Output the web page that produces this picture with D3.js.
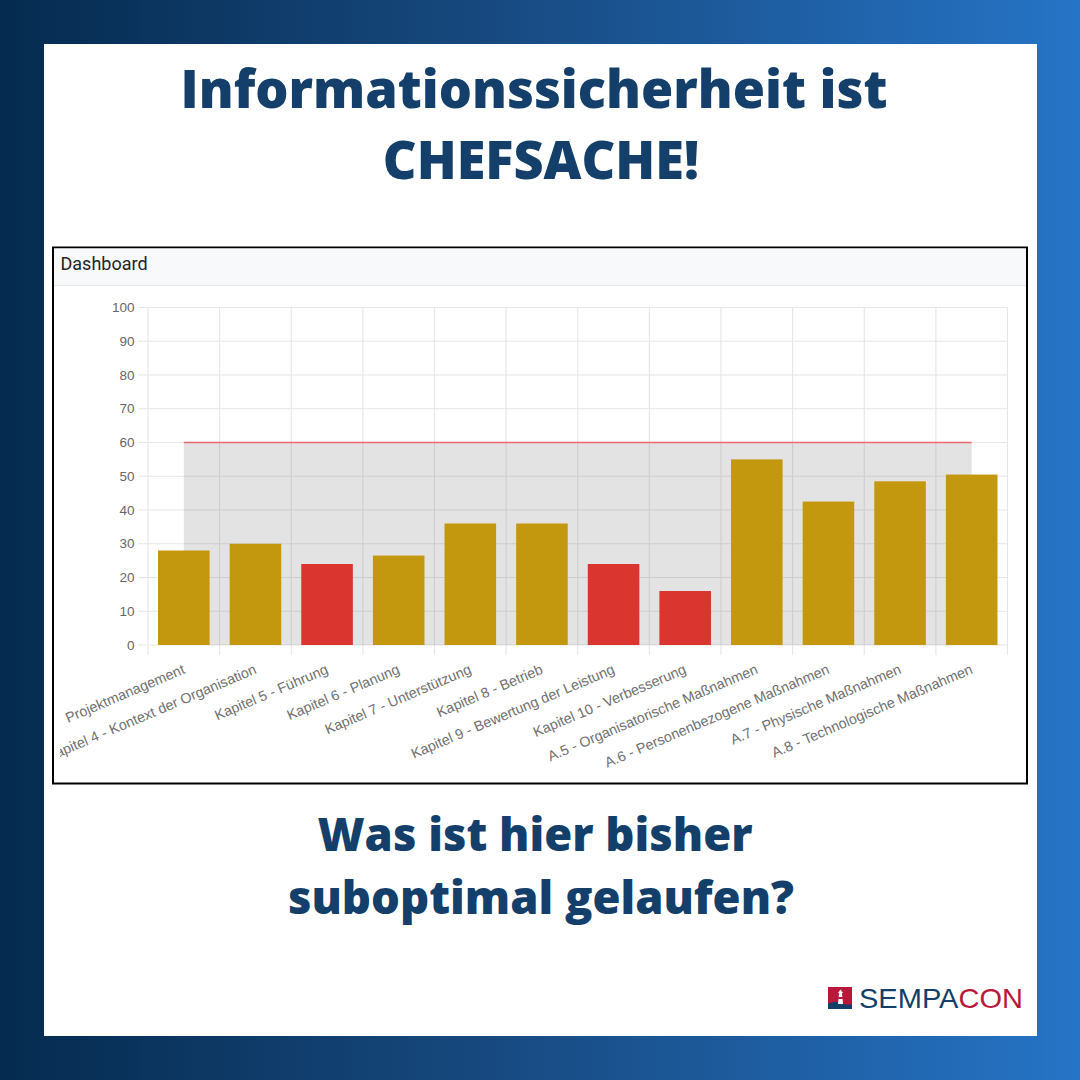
<!DOCTYPE html>
<html>
<head>
<meta charset="utf-8">
<script src="https://cdn.jsdelivr.net/npm/d3@7"></script>
<style>
  html, body { margin: 0; padding: 0; background: #fff; }
  svg { display: block; }
</style>
</head>
<body>
<div id="chart"></div>
<script>
const categories = [
  "Projektmanagement",
  "Kapitel 4 - Kontext der Organisation",
  "Kapitel 5 - Führung",
  "Kapitel 6 - Planung",
  "Kapitel 7 - Unterstützung",
  "Kapitel 8 - Betrieb",
  "Kapitel 9 - Bewertung der Leistung",
  "Kapitel 10 - Verbesserung",
  "A.5 - Organisatorische Maßnahmen",
  "A.6 - Personenbezogene Maßnahmen",
  "A.7 - Physische Maßnahmen",
  "A.8 - Technologische Maßnahmen"
];
const scores = [28, 30, 24, 26.5, 36, 36, 24, 16, 55, 42.5, 48.5, 50.5];
const target = categories.map(() => 60);
const yTicks = [0, 10, 20, 30, 40, 50, 60, 70, 80, 90, 100];
const titleLines = ["Informationssicherheit ist", "CHEFSACHE!"];
const questionLines = ["Was ist hier bisher", "suboptimal gelaufen?"];

const navy = "#143f6b";
const redLimit = 25; // bars below this are red

const svg = d3.select("#chart").append("svg").attr("width", 1080).attr("height", 1080);
const defs = svg.append("defs");

// page background
const bg = defs.append("linearGradient").attr("id", "bg");
bg.append("stop").attr("offset", "0%").attr("stop-color", "#052b4f");
bg.append("stop").attr("offset", "45%").attr("stop-color", "#17497f");
bg.append("stop").attr("offset", "100%").attr("stop-color", "#2674c6");
svg.append("rect").attr("width", 1080).attr("height", 1080).attr("fill", "url(#bg)");
svg.append("rect").attr("x", 44).attr("y", 44).attr("width", 993).attr("height", 992).attr("fill", "#fff");

// headings, the first lines sit a little left because of a trailing space in the original
function heading(lines, xs, ys, size) {
  svg.append("g").selectAll("text").data(lines).enter().append("text")
    .attr("x", (d, i) => xs[i])
    .attr("y", (d, i) => ys[i])
    .attr("text-anchor", "middle")
    .attr("font-family", "'Open Sans'")
    .attr("font-weight", 800)
    .attr("font-size", size)
    .attr("fill", navy)
    .text((d) => d);
}
heading(titleLines, [534, 541], [108, 179], 52.2);
heading(questionLines, [535, 541], [851, 914], 45.4);

// dashboard card
svg.append("rect").attr("x", 53).attr("y", 247.5).attr("width", 974).attr("height", 536)
  .attr("fill", "#fff").attr("stroke", "#000").attr("stroke-width", 2);
svg.append("rect").attr("x", 54).attr("y", 248.5).attr("width", 972).attr("height", 37)
  .attr("fill", "#f8f9fa");
svg.append("line").attr("x1", 54).attr("x2", 1026).attr("y1", 285.5).attr("y2", 285.5)
  .attr("stroke", "#e6e6e8");
svg.append("text").attr("x", 60.5).attr("y", 270)
  .attr("font-family", "Roboto").attr("font-size", 18).attr("fill", "#212529")
  .text("Dashboard");

// scales
const x = d3.scaleBand().domain(categories).range([148, 1007.5]).paddingInner(0).paddingOuter(0);
const y = d3.scaleLinear().domain([0, 100]).range([645, 307.5]);
const barWidth = x.bandwidth() * 0.72;
const center = (d) => x(d) + x.bandwidth() / 2;

// grid
const grid = svg.append("g");
grid.selectAll(".h").data(yTicks).enter().append("line")
  .attr("x1", 138).attr("x2", 1007.5)
  .attr("y1", (d) => y(d)).attr("y2", (d) => y(d))
  .attr("stroke", "#e6e6e6").attr("stroke-width", 1.1);
const xEdges = categories.map((d) => x(d)).concat([x.range()[1]]);
grid.selectAll(".v").data(xEdges).enter().append("line")
  .attr("x1", (d) => d).attr("x2", (d) => d)
  .attr("y1", y(100)).attr("y2", y(0) + 10)
  .attr("stroke", "#e6e6e6").attr("stroke-width", 1.1);

// target area with red top line
const area = d3.area()
  .x((d, i) => center(categories[i]))
  .y0(y(0))
  .y1((d) => y(d));
svg.append("path").datum(target).attr("d", area)
  .attr("fill", "rgba(100,100,100,0.18)");
const line = d3.line()
  .x((d, i) => center(categories[i]))
  .y((d) => y(d));
svg.append("path").datum(target).attr("d", line)
  .attr("fill", "none").attr("stroke", "#f4676b").attr("stroke-width", 1.6);

// bars
svg.append("g").selectAll("rect").data(categories).enter().append("rect")
  .attr("x", (d) => center(d) - barWidth / 2)
  .attr("width", barWidth)
  .attr("y", (d, i) => y(scores[i]))
  .attr("height", (d, i) => y(0) - y(scores[i]))
  .attr("fill", (d, i) => (scores[i] < redLimit ? "#da352e" : "#c4980e"));

// y tick labels
svg.append("g").selectAll("text").data(yTicks).enter().append("text")
  .attr("x", 134.5)
  .attr("y", (d) => y(d) + 4.5)
  .attr("text-anchor", "end")
  .attr("font-family", "'Liberation Sans'")
  .attr("font-size", 13.5)
  .attr("fill", "#666")
  .text((d) => d);

// x labels, cut off at the card's left side like the original canvas
defs.append("clipPath").attr("id", "canvasClip")
  .append("rect").attr("x", 60).attr("y", 640).attr("width", 960).attr("height", 140);
svg.append("g").attr("clip-path", "url(#canvasClip)")
  .selectAll("text").data(categories).enter().append("text")
  .attr("transform", (d) => `translate(${center(d) + 2},${y(0) + 28}) rotate(-23)`)
  .attr("text-anchor", "end")
  .attr("font-family", "'Liberation Sans'")
  .attr("font-size", 14.3)
  .attr("fill", "#707070")
  .text((d) => d);

// logo
const logo = svg.append("g");
logo.append("rect").attr("x", 828).attr("y", 987).attr("width", 24).attr("height", 22).attr("fill", "#b9183a");
logo.append("path").attr("d", "M828 1004 Q835 1000 841 1003 T852 1004 V1009 H828 Z").attr("fill", "#143f6b");
logo.append("path").attr("d", "M838 1004 L839 993 H842 L843 1004 Z").attr("fill", "#fff");
logo.append("rect").attr("x", 838).attr("y", 997).attr("width", 5).attr("height", 2).attr("fill", "#b9183a");
logo.append("path").attr("d", "M838 993 L840.5 989.5 L843 993 Z").attr("fill", "#fff");
const logoText = logo.append("text").attr("x", 859).attr("y", 1007.5)
  .attr("font-family", "'Liberation Sans'").attr("font-size", 28).attr("textLength", 164)
  .attr("lengthAdjust", "spacingAndGlyphs");
logoText.append("tspan").attr("fill", "#143f6b").text("SEMPA");
logoText.append("tspan").attr("fill", "#b9183a").text("CON");
</script>
</body>
</html>
